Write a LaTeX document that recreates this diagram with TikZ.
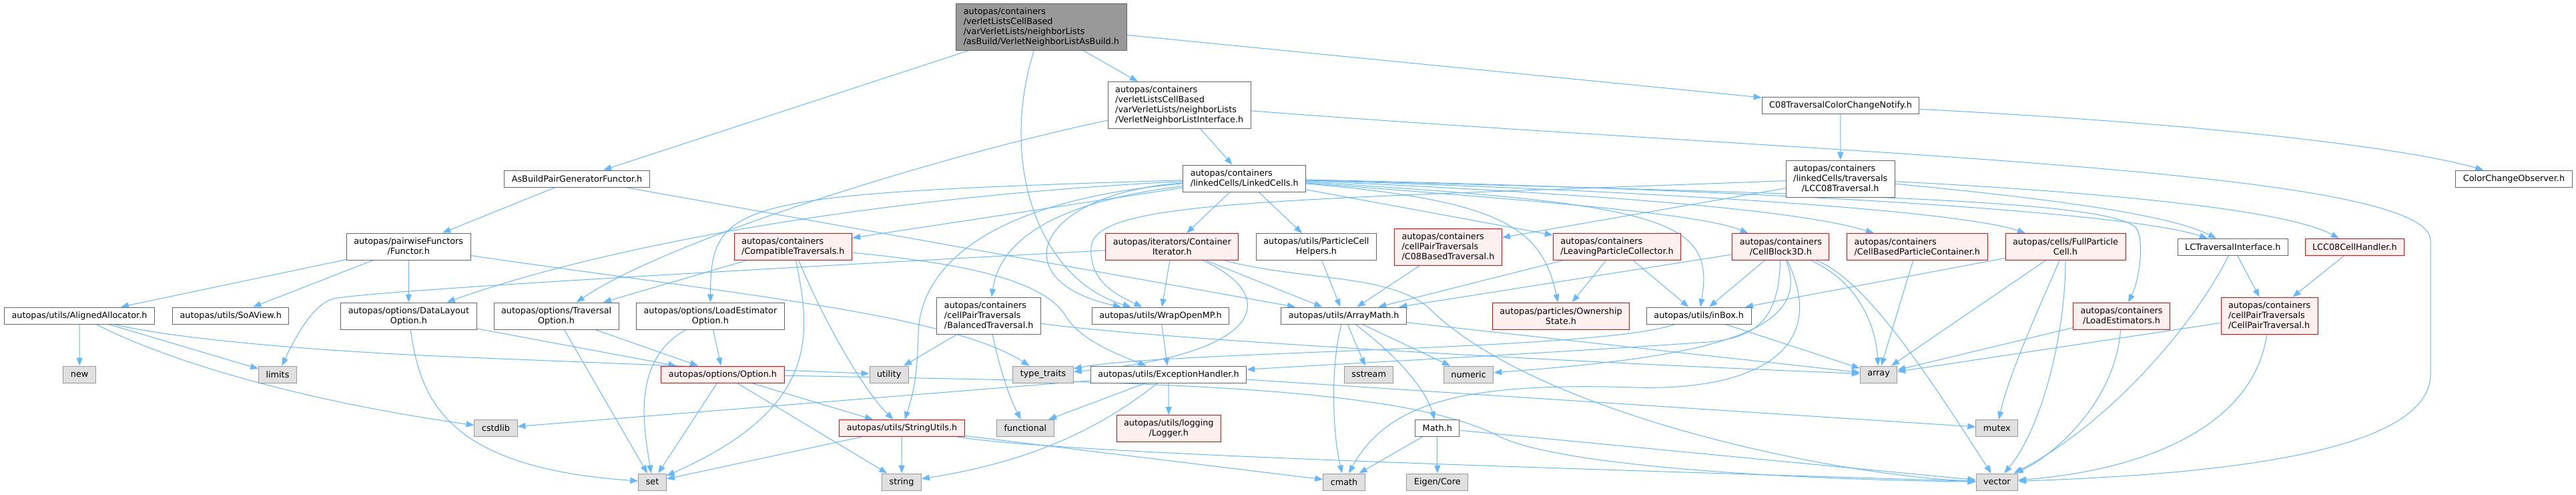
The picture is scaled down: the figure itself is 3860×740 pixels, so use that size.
\documentclass[tikz,border=0pt]{standalone}
\usepackage{fontspec}
\setmainfont{DejaVu Sans}
\usetikzlibrary{arrows.meta,backgrounds}
\definecolor{edgeblue}{HTML}{63B8FF}
\definecolor{grey40}{HTML}{666666}
\definecolor{grey60}{HTML}{999999}
\definecolor{sysfill}{HTML}{E0E0E0}
\definecolor{truncfill}{HTML}{FFF0F0}

\begin{document}
\begin{tikzpicture}[x=1pt,y=-1pt,font=\fontsize{12.8}{15}\selectfont,
  hdr/.style={draw=grey40,fill=white,line width=1pt,inner xsep=11pt,inner ysep=3pt,minimum height=25pt,align=left},
  rows/.style={minimum height={10pt+15pt*#1}},
  mainhdr/.style={hdr,fill=grey60},
  trunc/.style={hdr,draw=red,fill=truncfill},
  sys/.style={hdr,draw=grey60,fill=sysfill},
  inc/.style={draw=edgeblue,line width=1pt,-{Triangle[length=12pt,width=9pt]}}]
  \useasboundingbox (0,0) rectangle (3860,740);
  % ---- top
  \node[mainhdr,rows=4] (root) at (1560.4,40) {autopas/containers\\/verletListsCellBased\\/varVerletLists/neighborLists\\/asBuild/VerletNeighborListAsBuild.h};
  \node[hdr,rows=4] (vnli) at (1767.2,157.5) {autopas/containers\\/verletListsCellBased\\/varVerletLists/neighborLists\\/VerletNeighborListInterface.h};
  \node[hdr] (cnotify) at (2758,157.5) {C08TraversalColorChangeNotify.h};
  \node[hdr] (asb) at (864.5,267.5) {AsBuildPairGeneratorFunctor.h};
  \node[hdr,rows=2] (lc) at (1864.7,267) {autopas/containers\\/linkedCells/LinkedCells.h};
  \node[hdr,rows=3,align=center] (lcc08) at (2757.7,267.5) {\rlap{autopas/containers}\phantom{/linkedCells/traversals}\\/linkedCells/traversals\\/LCC08Traversal.h};
  \node[hdr] (cco) at (3767,267.5) {ColorChangeObserver.h};
  % ---- second row
  \node[hdr,rows=2,align=center] (functor) at (612.2,369) {autopas/pairwiseFunctors\\/Functor.h};
  \node[trunc,rows=2] (ct) at (1188.4,369.5) {autopas/containers\\/CompatibleTraversals.h};
  \node[trunc,rows=2,align=center] (ci) at (1756.3,369.5) {autopas/iterators/Container\\Iterator.h};
  \node[hdr,rows=2,align=center] (pch) at (1972.4,369.5) {autopas/utils/ParticleCell\\Helpers.h};
  \node[trunc,rows=3] (c08b) at (2170,369.5) {autopas/containers\\/cellPairTraversals\\/C08BasedTraversal.h};
  \node[trunc,rows=2] (lpc) at (2423,369.5) {autopas/containers\\/LeavingParticleCollector.h};
  \node[trunc,rows=2,align=center] (cb) at (2668.4,369.5) {autopas/containers\\/CellBlock3D.h};
  \node[trunc,rows=2] (cbpc) at (2872.8,369.5) {autopas/containers\\/CellBasedParticleContainer.h};
  \node[trunc,rows=2,align=center] (fpc) at (3095,369.5) {autopas/cells/FullParticle\\Cell.h};
  \node[hdr] (lcti) at (3345.8,370) {LCTraversalInterface.h};
  \node[trunc] (lcch) at (3528.3,370) {LCC08CellHandler.h};
  % ---- third row
  \node[hdr] (aa) at (119,472.5) {autopas/utils/AlignedAllocator.h};
  \node[hdr] (soa) at (345.7,472.5) {autopas/utils/SoAView.h};
  \node[hdr,rows=2,align=center] (dlo) at (612.4,473) {autopas/options/DataLayout\\Option.h};
  \node[hdr,rows=2,align=center] (trav) at (833.6,473) {autopas/options/Traversal\\Option.h};
  \node[hdr,rows=2,align=center] (leo) at (1064.4,473) {autopas/options/LoadEstimator\\Option.h};
  \node[hdr,rows=3] (bt) at (1481.7,472.5) {autopas/containers\\/cellPairTraversals\\/BalancedTraversal.h};
  \node[hdr] (womp) at (1739,472.5) {autopas/utils/WrapOpenMP.h};
  \node[hdr] (am) at (2013.7,472.5) {autopas/utils/ArrayMath.h};
  \node[trunc,rows=2,align=center] (os) at (2339,473) {autopas/particles/Ownership\\State.h};
  \node[hdr] (ib) at (2545.7,472.5) {autopas/utils/inBox.h};
  \node[trunc,rows=2,align=center] (le) at (3179,473) {autopas/containers\\/LoadEstimators.h};
  \node[trunc,rows=3] (cpt) at (3400.6,472.5) {autopas/containers\\/cellPairTraversals\\/CellPairTraversal.h};
  % ---- fourth row
  \node[sys] (new) at (119.2,560.5) {new};
  \node[sys] (limits) at (416,560.5) {limits};
  \node[trunc] (opt) at (1083,560.5) {autopas/options/Option.h};
  \node[sys] (utility) at (1332.2,560.5) {utility};
  \node[sys] (tt) at (1563,560.5) {type\_traits};
  \node[hdr] (eh) at (1751,560.5) {autopas/utils/ExceptionHandler.h};
  \node[sys] (sstream) at (2051.2,560.5) {sstream};
  \node[sys] (numeric) at (2200.6,560.5) {numeric};
  \node[sys] (array) at (2815,560.5) {array};
  % ---- fifth row
  \node[sys] (cstdlib) at (743,641) {cstdlib};
  \node[trunc] (su) at (1351.5,641) {autopas/utils/StringUtils.h};
  \node[sys] (functional) at (1536.4,641) {functional};
  \node[trunc,rows=2,align=center] (logger) at (1751.3,641.5) {autopas/utils/logging\\/Logger.h};
  \node[hdr] (math) at (2153.8,641) {Math.h};
  \node[sys] (mutex) at (2992.3,641) {mutex};
  % ---- bottom
  \node[sys] (set) at (977.6,721.5) {set};
  \node[sys] (string) at (1351,721.5) {string};
  \node[sys] (cmath) at (2014,721.5) {cmath};
  \node[sys] (eigen) at (2153.8,721.5) {Eigen/Core};
  \node[sys] (vector) at (2992.3,721.5) {vector};

  \begin{scope}[on background layer]
  \fill[white] (0,0) rectangle (3860,740);
  % ---- the file itself
  \draw[inc] (root) -- (asb);
  \draw[inc] (root) -- (vnli);
  \draw[inc] (root) -- (cnotify);
  \draw[inc] (root) .. controls (1495,250) and (1560,420) .. (womp);
  % ---- VerletNeighborListInterface.h
  \draw[inc] (vnli) -- (lc);
  \draw[inc] (vnli) .. controls (1400,235) and (1000,360) .. (trav);
  \draw[inc] (vnli) .. controls (2700,230) and (3642,250) .. (3642,360) -- (3642,560) .. controls (3642,690) and (3250,712) .. (vector);
  % ---- AsBuildPairGeneratorFunctor.h
  \draw[inc] (asb) -- (functor);
  \draw[inc] (asb) -- (am);
  % ---- C08TraversalColorChangeNotify.h, LCC08Traversal.h
  \draw[inc] (cnotify) -- (lcc08);
  \draw[inc] (cnotify) .. controls (3300,185) and (3600,220) .. (cco);
  \draw[inc] (lcc08) -- (c08b);
  \draw[inc] (lcc08) .. controls (3050,295) and (3250,320) .. (lcti);
  \draw[inc] (lcc08) .. controls (3100,285) and (3420,310) .. (lcch);
  \draw[inc] (lcc08) .. controls (1900,300) and (1640,300) .. (1635,370) .. controls (1632,420) and (1670,440) .. (womp);
  % ---- LinkedCells.h
  \draw[inc] (lc) -- (ci);
  \draw[inc] (lc) -- (pch);
  \draw[inc] (lc) -- (ct);
  \draw[inc] (lc) -- (lpc);
  \draw[inc] (lc) .. controls (1300,295) and (900,370) .. (dlo);
  \draw[inc] (lc) .. controls (1100,290) and (1065,300) .. (leo);
  \draw[inc] (lc) .. controls (1600,300) and (1500,350) .. (bt);
  \draw[inc] (lc) .. controls (1480,300) and (1378,400) .. (1376,500) .. controls (1375,570) and (1365,600) .. (su);
  \draw[inc] (lc) .. controls (1550,290) and (1500,420) .. (womp);
  \draw[inc] (lc) .. controls (2250,300) and (2310,340) .. (os);
  \draw[inc] (lc) .. controls (2500,305) and (2570,330) .. (ib);
  \draw[inc] (lc) .. controls (2300,300) and (2550,320) .. (cb);
  \draw[inc] (lc) .. controls (2400,290) and (2700,315) .. (cbpc);
  \draw[inc] (lc) .. controls (2600,290) and (2950,320) .. (fpc);
  \draw[inc] (lc) .. controls (2800,292) and (3150,300) .. (3200,340) .. controls (3215,360) and (3205,420) .. (le);
  \draw[inc] (lc) .. controls (2700,285) and (3200,320) .. (lcti);
  % ---- Functor.h
  \draw[inc] (functor) -- (aa);
  \draw[inc] (functor) -- (soa);
  \draw[inc] (functor) -- (dlo);
  \draw[inc] (functor) .. controls (1100,440) and (1420,470) .. (tt);
  % ---- AlignedAllocator.h
  \draw[inc] (aa) -- (new);
  \draw[inc] (aa) -- (limits);
  \draw[inc] (aa) .. controls (250,505) and (450,525) .. (700,535) -- (utility);
  \draw[inc] (aa) .. controls (250,540) and (450,600) .. (cstdlib);
  % ---- options
  \draw[inc] (dlo) -- (opt);
  \draw[inc] (dlo) .. controls (630,600) and (670,700) .. (set);
  \draw[inc] (trav) -- (opt);
  \draw[inc] (trav) -- (set);
  \draw[inc] (leo) -- (opt);
  \draw[inc] (leo) .. controls (945,540) and (965,640) .. (set);
  \draw[inc] (opt) -- (set);
  \draw[inc] (opt) -- (su);
  \draw[inc] (opt) -- (string);
  \draw[inc] (opt) .. controls (1700,572) and (2100,575) .. (2250,655) .. controls (2350,700) and (2700,718) .. (vector);
  % ---- CompatibleTraversals.h
  \draw[inc] (ct) -- (trav);
  \draw[inc] (ct) .. controls (1215,500) and (1230,610) .. (set);
  \draw[inc] (ct) .. controls (1230,470) and (1290,580) .. (su);
  \draw[inc] (ct) .. controls (1450,395) and (1560,420) .. (1595,470) .. controls (1615,505) and (1660,525) .. (eh);
  % ---- ContainerIterator.h
  \draw[inc] (ci) .. controls (1000,410) and (560,436) .. (500,447) .. controls (470,455) and (445,500) .. (limits);
  \draw[inc] (ci) -- (womp);
  \draw[inc] (ci) -- (am);
  \draw[inc] (ci) .. controls (1915,440) and (1905,530) .. (tt);
  \draw[inc] (ci) .. controls (1950,420) and (2080,410) .. (2140,460) .. controls (2300,620) and (2750,712) .. (vector);
  % ---- BalancedTraversal.h
  \draw[inc] (bt) -- (utility);
  \draw[inc] (bt) .. controls (1495,540) and (1510,590) .. (functional);
  \draw[inc] (bt) .. controls (1700,505) and (2300,540) .. (array);
  % ---- WrapOpenMP.h, ExceptionHandler.h
  \draw[inc] (womp) -- (eh);
  \draw[inc] (eh) -- (functional);
  \draw[inc] (eh) -- (logger);
  \draw[inc] (eh) .. controls (1650,640) and (1550,690) .. (string);
  \draw[inc] (eh) -- (cstdlib);
  \draw[inc] (eh) -- (mutex);
  % ---- StringUtils.h
  \draw[inc] (su) -- (set);
  \draw[inc] (su) -- (string);
  \draw[inc] (su) -- (cmath);
  \draw[inc] (su) .. controls (1600,680) and (2300,700) .. (vector);
  % ---- ArrayMath.h and around
  \draw[inc] (pch) -- (am);
  \draw[inc] (c08b) -- (am);
  \draw[inc] (lpc) -- (am);
  \draw[inc] (lpc) -- (os);
  \draw[inc] (lpc) -- (ib);
  \draw[inc] (am) -- (sstream);
  \draw[inc] (am) -- (numeric);
  \draw[inc] (am) .. controls (2090,530) and (2135,580) .. (math);
  \draw[inc] (am) .. controls (1995,540) and (1995,640) .. (cmath);
  \draw[inc] (am) -- (array);
  \draw[inc] (math) -- (cmath);
  \draw[inc] (math) -- (eigen);
  \draw[inc] (math) -- (vector);
  \draw[inc] (ib) -- (array);
  \draw[inc] (ib) .. controls (2400,525) and (1750,525) .. (tt);
  % ---- CellBlock3D.h
  \draw[inc] (cb) -- (ib);
  \draw[inc] (cb) -- (am);
  \draw[inc] (cb) .. controls (2665,470) and (2640,505) .. (2560,512) .. controls (2300,530) and (2000,545) .. (eh);
  \draw[inc] (cb) .. controls (2720,500) and (2550,535) .. (numeric);
  \draw[inc] (cb) .. controls (2745,530) and (2620,585) .. (2450,580) .. controls (2200,572) and (2080,600) .. (cmath);
  \draw[inc] (cb) .. controls (2780,420) and (2810,480) .. (array);
  \draw[inc] (cb) .. controls (2800,420) and (2900,580) .. (vector);
  % ---- containers, cells, traversals
  \draw[inc] (cbpc) -- (array);
  \draw[inc] (fpc) -- (ib);
  \draw[inc] (fpc) -- (array);
  \draw[inc] (fpc) .. controls (3060,450) and (3010,560) .. (mutex);
  \draw[inc] (fpc) .. controls (3095,500) and (3060,640) .. (vector);
  \draw[inc] (le) -- (array);
  \draw[inc] (le) .. controls (3170,600) and (3080,680) .. (vector);
  \draw[inc] (lcti) -- (cpt);
  \draw[inc] (lcti) .. controls (3280,500) and (3150,640) .. (vector);
  \draw[inc] (lcch) -- (cpt);
  \draw[inc] (cpt) -- (array);
  \draw[inc] (cpt) .. controls (3380,620) and (3250,700) .. (vector);
  \end{scope}
\end{tikzpicture}
\end{document}
